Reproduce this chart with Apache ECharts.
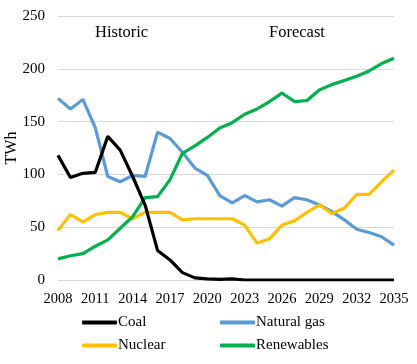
<!DOCTYPE html>
<html><head><meta charset="utf-8">
<script src="https://cdn.jsdelivr.net/npm/echarts@6/dist/echarts.min.js"></script>
<style>html,body{margin:0;padding:0;background:#fff}#c{width:417px;height:364px}</style>
</head><body><div id="c"></div>
<script>
var years = ['2008','2009','2010','2011','2012','2013','2014','2015','2016','2017','2018','2019','2020','2021','2022','2023','2024','2025','2026','2027','2028','2029','2030','2031','2032','2033','2034','2035'];
var coal = [118,97,101,102,136,123,98,71,28,19,7,2,1,0.5,1,0,0,0,0,0,0,0,0,0,0,0,0,0];
var naturalGas = [172,162,171,144,98,93,99,98,140,134,121,106,99,80,73,80,74,76,70,78,76,71,65,57,48,45,41,33];
var nuclear = [47,62,55,62,64,64,58,64,64,64,57,58,58,58,58,52,35,39,52,56,64,71,63,68,81,81,93,104];
var renewables = [20,23,25,32,38,49,60,78,79,95,120,127,135,144,149,157,162,169,177,169,170,180,185,189,193,198,205,210];
var yTicks = {min:0, max:250, interval:50};
var periodLabels = ['Historic','Forecast'];

var font = 'Liberation Serif';
var chart = echarts.init(document.getElementById('c'));
function ser(name, data, color){
  return {name:name, type:'line', data:data, symbol:'none', smooth:false,
    lineStyle:{color:color, width:3.2}, itemStyle:{color:color}};
}
function leg(name, left, top){
  return {data:[name], left:left, top:top, icon:'roundRect', itemWidth:35, itemHeight:4, itemGap:0,
    textStyle:{fontFamily:font, fontSize:15, color:'#000', padding:[0,0,0,-4]}, padding:0, selectedMode:false};
}
chart.setOption({
  animation:false,
  grid:{left:58, right:23, top:16, bottom:84, containLabel:false, outerBoundsMode:'none'},
  xAxis:{type:'category', data:years, boundaryGap:false,
    axisLine:{show:false}, axisTick:{show:false},
    axisLabel:{interval:2, fontFamily:font, fontSize:14.5, color:'#000', margin:12}},
  yAxis:{type:'value', min:yTicks.min, max:yTicks.max, interval:yTicks.interval,
    name:'TWh', nameLocation:'middle', nameGap:38, nameRotate:90, nameMoveOverlap:false,
    nameTextStyle:{fontFamily:font, fontSize:16, color:'#000'},
    axisLabel:{fontFamily:font, fontSize:15, color:'#000', margin:13},
    splitLine:{lineStyle:{color:'#d9d9d9', width:1}}},
  legend:[leg('Coal',82,315), leg('Natural gas',220,315), leg('Nuclear',82,338), leg('Renewables',220,338)],
  graphic:[
    {type:'text', left:95, top:24, style:{text:periodLabels[0], fontFamily:font, fontSize:16.5, fill:'#000'}},
    {type:'text', left:269, top:24, style:{text:periodLabels[1], fontFamily:font, fontSize:16.5, fill:'#000'}}
  ],
  series:[ser('Natural gas', naturalGas, '#5b9bd5'), ser('Nuclear', nuclear, '#ffc000'), ser('Renewables', renewables, '#00b050'), ser('Coal', coal, '#000000')]
});
</script></body></html>
